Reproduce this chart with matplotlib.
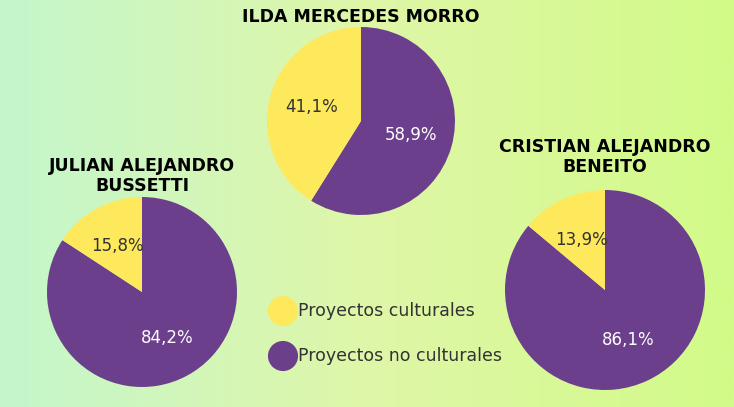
import numpy as np
import matplotlib.pyplot as plt
from matplotlib.colors import LinearSegmentedColormap

W, H = 734, 407
names = ['ILDA MERCEDES MORRO', 'JULIAN ALEJANDRO\nBUSSETTI', 'CRISTIAN ALEJANDRO\nBENEITO']
no_cult = [58.9, 84.2, 86.1]
cult = [41.1, 15.8, 13.9]
legend_labels = ['Proyectos culturales', 'Proyectos no culturales']

yellow = '#fde95b'
purple = '#6b3f8c'

fig = plt.figure(figsize=(W / 100, H / 100), dpi=100)
bg = fig.add_axes([0, 0, 1, 1])
grad = np.linspace(0, 1, 256).reshape(1, -1)
cmap = LinearSegmentedColormap.from_list('bg', ['#c4f7cc', '#dff6a8', '#d2fb88'])
bg.imshow(grad, aspect='auto', cmap=cmap, extent=[0, W, 0, H])
bg.set_xlim(0, W)
bg.set_ylim(0, H)
bg.axis('off')

# pie centres / radii in pixels (layout)
pies = [(361, 121, 94), (142, 292, 95), (605, 290, 100)]
title_pos = [(361, 17), (142, 176), (605, 157)]

for i, (cx, cy, r) in enumerate(pies):
    ax = fig.add_axes([(cx - r) / W, (H - cy - r) / H, 2 * r / W, 2 * r / H])
    wedges, texts, autotexts = ax.pie(
        [no_cult[i], cult[i]], colors=[purple, yellow], startangle=90,
        counterclock=False, autopct=lambda p: f'{p:.1f}%'.replace('.', ','),
        pctdistance=0.55, textprops={'fontsize': 12}, frame=False)
    autotexts[0].set_color('white')
    autotexts[1].set_color('#333333')
    ax.set_xlim(-1, 1)
    ax.set_ylim(-1, 1)
    ax.set_aspect('auto')
    ax.axis('off')
    tx, ty = title_pos[i]
    bg.text(tx, H - ty, names[i], ha='center', va='center', fontsize=12.5,
            fontweight='heavy', color='black', linespacing=1.1)

for j, (lab, col) in enumerate(zip(legend_labels, [yellow, purple])):
    y = H - (311 + 45 * j)
    bg.scatter([283], [y], s=470, color=col, edgecolors='none')
    bg.text(298, y, lab, va='center', ha='left', fontsize=12.5, color='#333333')

fig.savefig('out.png', dpi=100)
